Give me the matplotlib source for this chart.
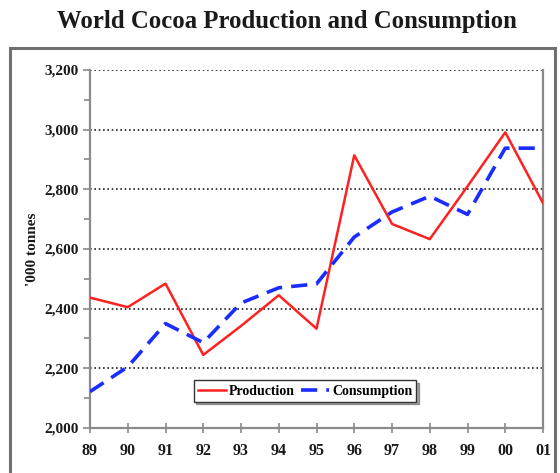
import matplotlib
matplotlib.use("Agg")
import matplotlib.pyplot as plt
from matplotlib.patches import Rectangle
from matplotlib.ticker import MultipleLocator, FuncFormatter

years = ["89", "90", "91", "92", "93", "94", "95", "96", "97", "98", "99", "00", "01"]
production = [2437, 2405, 2484, 2245, 2342, 2445, 2333, 2914, 2684, 2633, 2810, 2991, 2754]
consumption = [2122, 2205, 2350, 2286, 2419, 2470, 2483, 2640, 2724, 2777, 2716, 2938, 2938]

SERIF = ["Liberation Serif", "DejaVu Serif"]

fig = plt.figure(figsize=(5.6, 4.73), dpi=100)
W, H = 560, 473

# outer frame
fig.patches.append(Rectangle((10 / W, -0.05), 545 / W, 1 - 48 / H + 0.05,
                             transform=fig.transFigure, fill=False,
                             edgecolor="#707070", linewidth=2.2))

fig.text(287 / W, 1 - 21 / H, "World Cocoa Production and Consumption",
         ha="center", va="center", fontsize=17.8, fontweight="bold",
         family=SERIF, color="#1a1a1a")

ax = fig.add_axes([90 / W, 1 - 428 / H, (543 - 90) / W, (428 - 70) / H])
x = list(range(len(years)))
ax.plot(x, production, color="#ff2020", lw=1.8, label="Production", zorder=3)
ax.plot(x, consumption, color="#1a2cff", lw=2.6, dashes=(4.5, 2.5),
        label="Consumption", zorder=3)

ax.set_xlim(0, len(years) - 1)
ax.set_ylim(2000, 3200)
ax.set_xticks(x)
ax.set_xticklabels(years)
ax.yaxis.set_major_locator(MultipleLocator(200))
ax.yaxis.set_minor_locator(MultipleLocator(100))
ax.yaxis.set_major_formatter(FuncFormatter(lambda v, p: f"{int(v):,}"))

for v in range(2200, 3201, 200):
    ax.axhline(v, color="#222222", lw=1.2, linestyle=(0, (1, 1.6)), zorder=1)

for s in ["left", "right", "bottom"]:
    ax.spines[s].set_color("#8a8a8a")
    ax.spines[s].set_linewidth(1.6)
ax.spines["top"].set_visible(False)

ax.tick_params(axis="y", which="both", direction="out", color="#8a8a8a",
               width=1.2, labelsize=11, pad=3, labelcolor="#1a1a1a")
ax.tick_params(axis="y", which="major", length=5)
ax.tick_params(axis="y", which="minor", length=4)
ax.tick_params(axis="x", direction="inout", length=7, width=1.2, color="#8a8a8a",
               labelsize=11.5, pad=7, labelcolor="#1a1a1a")
for lab in ax.get_xticklabels() + ax.get_yticklabels():
    lab.set_fontfamily(SERIF)
    lab.set_fontweight("bold")

ax.set_ylabel("'000 tonnes", fontsize=11, fontweight="bold", family=SERIF,
              color="#1a1a1a", labelpad=4)

leg = ax.legend(loc="center", bbox_to_anchor=(305 / W, 1 - 391 / H),
                bbox_transform=fig.transFigure, ncol=2, frameon=True,
                fancybox=False, shadow=True, handlelength=2.0,
                handletextpad=0.2, columnspacing=0.5, borderpad=0.3,
                prop={"family": SERIF, "weight": "bold", "size": 10})
leg.get_frame().set_edgecolor("#333333")
leg.get_frame().set_linewidth(1.0)

fig.savefig("out.png", dpi=100)
